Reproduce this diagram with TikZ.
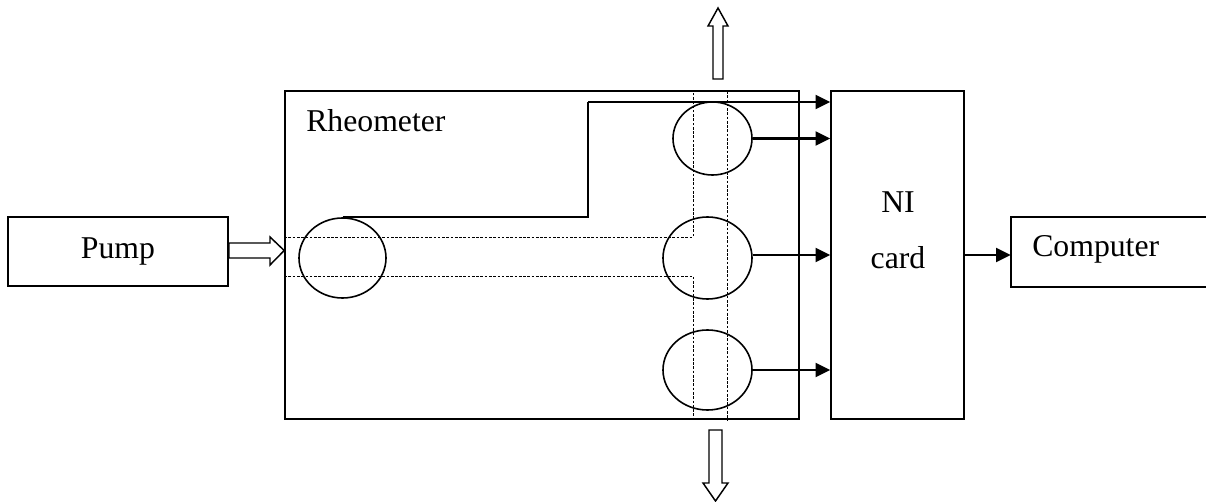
\documentclass[tikz,border=0pt]{standalone}
\usepackage{fontspec}
\setmainfont{Liberation Serif}
\usetikzlibrary{fit,shapes.geometric,arrows.meta}
\begin{document}
\begin{tikzpicture}[x=0.75pt,y=-0.75pt,
  box/.style={draw,line width=1.2pt,inner sep=0pt},
  frame/.style={inner sep=0pt},
  lbl/.style={inner sep=0pt,font=\fontsize{23.8}{28}\selectfont},
  sensor/.style={draw,ellipse,line width=1.2pt,inner sep=0pt},
  sig/.style={line width=1.7pt,-{Triangle[length=11pt,width=10.5pt]}},
  flowpath/.style={line width=0.5pt,dash pattern=on 2pt off 1.2pt},
  hollow/.style={draw,line width=1.1pt,fill=white,line join=miter}]
\useasboundingbox (0,0) rectangle (1206,502);

% boxes
\node[box,fit={(8,217)(228,286)}] (pump) {};
\node[box,fit={(285,91)(799,419)}] (rheo) {};
\node[box,fit={(831,91)(964,419)}] (ni) {};
\node[frame,fit={(1011,217)(1206,287)}] (comp) {};
\draw[line width=1.2pt] (comp.north east) -- (comp.north west) -- (comp.south west) -- (comp.south east);

% labels
\node[lbl,anchor=base] (pumplbl) at (118,258) {Pump};
\node[lbl,anchor=base west] (rheolbl) at (306,132) {Rheometer};
\node[lbl,anchor=base] (nilbl) at (898,213) {NI};
\node[lbl,anchor=base] (cardlbl) at (898,268) {card};
\node[lbl,anchor=base west] (complbl) at (1032,257) {Computer};

% flow channel through the rheometer
\coordinate (chA) at (693,237);
\coordinate (chB) at (693,276);
\coordinate (chC) at (727,91);
\draw[flowpath] (rheo.west |- chA) -- (chA) -- (chA |- rheo.north);
\draw[flowpath] (rheo.west |- chB) -- (chB) -- (chB |- rheo.south);
\draw[flowpath] (chC) -- (chC |- rheo.south);

% sensors (sizes given in pixels of the 0.75pt grid)
\node[sensor,minimum width=87*0.75pt,minimum height=80*0.75pt] (lc) at (342.5,258) {};
\node[sensor,minimum width=79*0.75pt,minimum height=73*0.75pt] (tc) at (712.5,138.5) {};
\node[sensor,minimum width=89*0.75pt,minimum height=82*0.75pt] (mc) at (707.5,258) {};
\node[sensor,minimum width=89*0.75pt,minimum height=80*0.75pt] (bc) at (707.5,370) {};

% signal lines to the NI card
\coordinate (bend) at (588,102);
\draw[line width=1.7pt] (lc.north) -| (bend);
\draw[sig] (bend) -- (bend -| ni.west);
\draw[sig] (tc.east) -- (tc.east -| ni.west);
\draw[sig] ([yshift=2.25pt]mc.east) -- ([yshift=2.25pt]mc.east -| ni.west);
\draw[sig] (bc.east) -- (bc.east -| ni.west);
\draw[sig] (ni.east |- 0,255) -- (comp.west |- 0,255);

% hollow flow arrows
\draw[hollow] (pump.east |- 0,243) -- (270,243) -- (270,237) -- (rheo.west |- 0,250.5)
  -- (270,265) -- (270,258) -- (pump.east |- 0,258) -- cycle;
\draw[hollow] (713,79) -- (713,26) -- (708,26) -- (718,8) -- (728,26) -- (723,26) -- (723,79) -- cycle;
\draw[hollow] (709,430) -- (709,483) -- (703,483) -- (715.5,501) -- (728,483) -- (722,483) -- (722,430) -- cycle;
\end{tikzpicture}
\end{document}
